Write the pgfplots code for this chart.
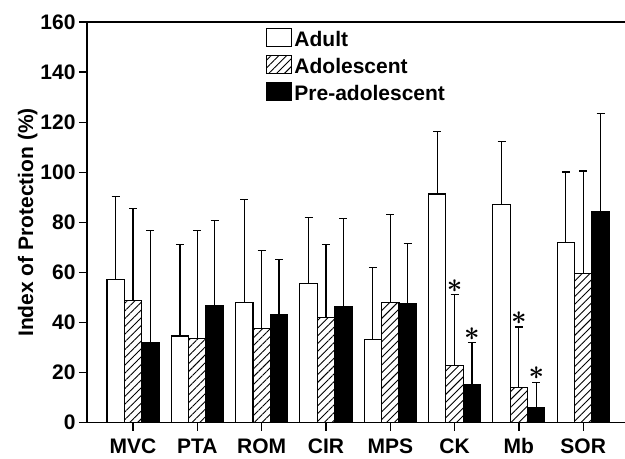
\documentclass[border=0pt]{standalone}
\usepackage{pgfplots}
\pgfplotsset{compat=1.18}
\usepackage{pgfplotstable}
\usepackage{graphicx}
\usepackage{fontspec}
\setmainfont{Liberation Sans}
\usetikzlibrary{patterns.meta}
\newcommand{\bigf}{\fontsize{21bp}{23bp}\selectfont\bfseries}

\pgfplotstableread{
x y e
0 57.3 32.9
1 34.6 36.6
2 47.9 41.3
3 55.5 26.5
4 33.4 28.4
5 91.3 24.8
6 87.2 25.0
7 72.0 28.1
}\adult
\pgfplotstableread{
x y e
0 48.7 37.0
1 33.5 43.2
2 37.7 31.0
3 42.1 28.9
4 47.9 35.3
5 23.0 28.1
6 14.1 24.1
7 59.7 40.8
}\adol
\pgfplotstableread{
x y e
0 32.2 44.6
1 46.6 34.1
2 43.0 22.0
3 46.3 35.3
4 47.7 23.7
5 15.1 16.9
6 6.1 10.0
7 84.4 39.2
}\pre

\begin{document}
\begin{tikzpicture}
\begin{axis}[
  name=ax,
  at={(0,0)}, anchor=south west,
  scale only axis,
  width=538bp, height=400.7bp,
  xmin=-0.716, xmax=7.65,
  ymin=0, ymax=160,
  axis x line=box, axis y line=left,
  axis line style={line width=1.3bp, -},
  xtick={0,...,7},
  xticklabels={MVC,PTA,ROM,CIR,MPS,CK,Mb,SOR},
  ytick={0,20,...,160},
  tick align=outside,
  major tick length=8bp,
  tick style={line width=1.3bp, black},
  xtick pos=bottom, ytick pos=left,
  /pgf/number format/assume math mode=true,
  ticklabel style={font=\bigf},
  xticklabel style={text height=15bp, text depth=0pt, yshift=-4bp},
  ylabel={Index of Protection (\%)},
  ylabel style={font=\bigf, yshift=-4bp},
  bar width=0.27,
  ybar=0pt,
  legend style={draw=none, fill=none, at={(0.333,0.985)}, anchor=north west,
    font=\bigf, row sep=5bp, inner sep=0pt,
    cells={anchor=west}},
  legend image code/.code={\draw[#1, line width=1.1bp] (0bp,-7bp) rectangle (25bp,11bp);},
  error bars/y dir=plus, error bars/y explicit,
  error bars/error bar style={line width=1.1bp, black},
  error bars/error mark options={rotate=90, mark size=4bp, line width=1.1bp, black},
  clip=false,
]
\addplot[draw=black, fill=white, line width=1.1bp, bar shift=-0.27] table[x=x, y=y, y error=e] {\adult};
\addlegendentry{Adult}
\addplot[draw=black, line width=1.1bp, bar shift=0, pattern={Lines[angle=45, distance=5.5bp, line width=0.9bp]}] table[x=x, y=y, y error=e] {\adol};
\addlegendentry{Adolescent}
\addplot[draw=black, fill=black, line width=1.1bp, bar shift=0.27] table[x=x, y=y, y error=e] {\pre};
\addlegendentry{Pre-adolescent}
\end{axis}
\begin{axis}[hide axis, at={(0,0)}, anchor=south west, scale only axis,
  width=538bp, height=400.7bp, xmin=-0.716, xmax=7.65, ymin=0, ymax=160, clip=false]
\addplot[only marks, mark=none, nodes near coords={\scalebox{2.7}{\boldmath$\ast$}},
  nodes near coords style={anchor=center, inner sep=0pt}]
  coordinates {(5,54.7) (5.27,35.5) (6,41.9) (6.27,19.9)};
\end{axis}
\pgfresetboundingbox
\path (-87bp,-36.3bp) rectangle (538bp,422.7bp);
\end{tikzpicture}
\end{document}
